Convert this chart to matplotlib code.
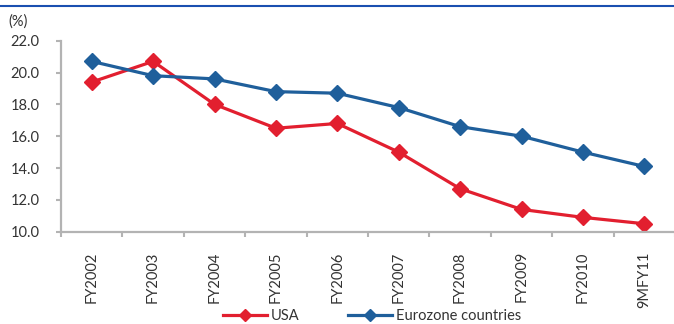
import matplotlib.pyplot as plt
from matplotlib.ticker import FixedLocator, FormatStrFormatter

periodos = ['FY2002', 'FY2003', 'FY2004', 'FY2005', 'FY2006',
            'FY2007', 'FY2008', 'FY2009', 'FY2010', '9MFY11']
usa = [19.4, 20.7, 18.0, 16.5, 16.8, 15.0, 12.7, 11.4, 10.9, 10.5]
eurozona = [20.7, 19.8, 19.6, 18.8, 18.7, 17.8, 16.6, 16.0, 15.0, 14.1]

rojo = '#e21f2f'
azul = '#1f5f9b'
gris = '#b3b3b3'
texto = '#333333'

plt.rcParams['font.family'] = ['Lato', 'DejaVu Sans']

fig = plt.figure(figsize=(6.74, 3.24), dpi=100)
ax = fig.add_axes([0.0905, 0.2849, 0.911, 0.5895])

x = list(range(len(periodos)))
ax.plot(x, usa, color=rojo, lw=2.3, marker='D', ms=8.5, label='USA')
ax.plot(x, eurozona, color=azul, lw=2.3, marker='D', ms=8.5, label='Eurozone countries')

ax.set_ylim(10, 22)
ax.set_xlim(-0.5, len(periodos) - 0.5)
ax.set_yticks([10, 12, 14, 16, 18, 20, 22])
ax.yaxis.set_major_formatter(FormatStrFormatter('%.1f'))

# marcas en los bordes de cada categoría, etiquetas en el centro
ax.xaxis.set_major_locator(FixedLocator([i - 0.5 for i in range(len(periodos) + 1)]))
ax.xaxis.set_major_formatter(plt.NullFormatter())
ax.xaxis.set_minor_locator(FixedLocator(x))
ax.set_xticklabels(periodos, minor=True, rotation=90)

for lado in ['top', 'right']:
    ax.spines[lado].set_visible(False)
for lado in ['left', 'bottom']:
    ax.spines[lado].set_color(gris)
    ax.spines[lado].set_linewidth(1.6)

ax.tick_params(axis='y', which='major', direction='out', length=3.5, width=1.5,
               color=gris, labelsize=10.5, labelcolor=texto, pad=12)
ax.tick_params(axis='x', which='major', direction='out', length=3.5, width=1.5, color=gris)
ax.tick_params(axis='x', which='minor', length=0, labelsize=10.5, labelcolor=texto, pad=14)

fig.text(8 / 674, 1 - 22 / 324, '(%)', fontsize=10.5, color=texto, va='center', ha='left')

# línea azul bajo el encabezado
fig.add_artist(plt.Line2D([0, 1], [1 - 5.7 / 324] * 2, color='#1a4fb0', lw=1.5))

fig.legend(loc='center', bbox_to_anchor=(372 / 674, 1 - 316.5 / 324), ncol=2,
           frameon=False, fontsize=10.5, handlelength=3.0, handletextpad=0.3,
           columnspacing=3.3, markerscale=0.7, labelcolor=texto,
           borderpad=0.1)

plt.savefig('out.png', dpi=100)
